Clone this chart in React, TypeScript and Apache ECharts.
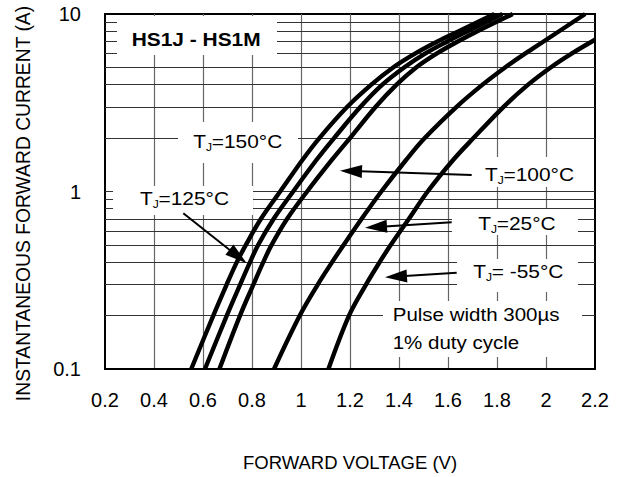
import React, { useEffect, useRef } from "react";
import * as echarts from "echarts";

// Forward voltage (V) vs instantaneous forward current (A)
const tj150: [number, number][] = [
  [0.552, 0.1], [0.642, 0.2], [0.697, 0.3], [0.738, 0.4], [0.775, 0.5], [0.836, 0.7],
  [0.915, 1], [1.005, 1.5], [1.075, 2], [1.189, 3], [1.287, 4], [1.376, 5], [1.467, 6],
  [1.557, 7], [1.644, 8], [1.789, 10],
];
const tj125: [number, number][] = [
  [0.608, 0.1], [0.697, 0.2], [0.752, 0.3], [0.792, 0.4], [0.825, 0.5], [0.888, 0.7],
  [0.968, 1], [1.062, 1.5], [1.135, 2], [1.243, 3], [1.332, 4], [1.421, 5], [1.508, 6],
  [1.597, 7], [1.68, 8], [1.822, 10],
];
const tj100: [number, number][] = [
  [0.667, 0.1], [0.751, 0.2], [0.806, 0.3], [0.846, 0.4], [0.88, 0.5], [0.943, 0.7],
  [1.025, 1], [1.125, 1.5], [1.2, 2], [1.305, 3], [1.39, 4], [1.47, 5], [1.555, 6],
  [1.64, 7], [1.72, 8], [1.864, 10],
];
const tj25: [number, number][] = [
  [0.89, 0.1], [0.995, 0.2], [1.069, 0.3], [1.127, 0.4], [1.174, 0.5], [1.247, 0.7],
  [1.328, 1], [1.428, 1.5], [1.505, 2], [1.635, 3], [1.741, 4], [1.833, 5], [1.916, 6],
  [1.99, 7], [2.16, 10],
];
const tjMinus55: [number, number][] = [
  [1.112, 0.1], [1.196, 0.2], [1.266, 0.3], [1.321, 0.4], [1.366, 0.5], [1.44, 0.7],
  [1.517, 1], [1.62, 1.5], [1.704, 2], [1.827, 3], [1.927, 4], [2.019, 5], [2.106, 6],
  [2.2, 7.16],
];
const curveNames = ["TJ=150°C", "TJ=125°C", "TJ=100°C", "TJ=25°C", "TJ=-55°C"];
const curves = [tj150, tj125, tj100, tj25, tjMinus55];

// horizontal grid lines of the log axis (minor decades)
const hGridValues = [0.2, 0.3, 0.4, 0.5, 0.6, 0.7, 0.8, 0.9, 1, 2, 3, 4, 5, 6, 7, 8, 9];

const FONT = "'Liberation Sans', Arial, Helvetica, sans-serif";

function txt(x: number, y: number, text: string, size: number, extra: any = {}) {
  return {
    type: "text",
    x,
    y,
    z: 10,
    style: {
      text,
      fontFamily: FONT,
      fontSize: size,
      fill: "#000",
      align: "left",
      verticalAlign: "middle",
      ...extra,
    },
  };
}

function tjLabel(x: number, y: number, rest: string) {
  return {
    type: "group",
    x,
    y,
    scaleX: 1.1,
    z: 10,
    children: [
      txt(0, 0, "T", 19),
      txt(11.6, 6, "J", 11),
      txt(16.8, 0, rest, 19),
    ],
  };
}

function box(x: number, y: number, w: number, h: number) {
  return {
    type: "rect",
    z: 3,
    shape: { x, y, width: w, height: h },
    style: { fill: "#fff" },
    silent: true,
  };
}

function arrow(x1: number, y1: number, x2: number, y2: number) {
  const dx = x2 - x1;
  const dy = y2 - y1;
  const len = Math.sqrt(dx * dx + dy * dy);
  const ux = dx / len;
  const uy = dy / len;
  const hl = 22;
  const hw = 6.5;
  const bx = x2 - ux * hl;
  const by = y2 - uy * hl;
  return [
    {
      type: "line",
      z: 10,
      shape: { x1, y1, x2: bx + ux * 2, y2: by + uy * 2 },
      style: { stroke: "#000", lineWidth: 2 },
    },
    {
      type: "polygon",
      z: 10,
      shape: {
        points: [
          [x2, y2],
          [bx - uy * hw, by + ux * hw],
          [bx + uy * hw, by - ux * hw],
        ],
      },
      style: { fill: "#000" },
    },
  ];
}

export default function App() {
  const ref = useRef<HTMLDivElement>(null);
  useEffect(() => {
    const chart = echarts.init(ref.current!, null, { renderer: "svg" });
    const option: any = {
      animation: false,
      backgroundColor: "#fff",
      grid: {
        left: 105,
        top: 14,
        width: 490,
        height: 358,
        show: true,
        borderColor: "#000",
        borderWidth: 2,
        backgroundColor: "transparent",
      },
      xAxis: {
        type: "value",
        min: 0.2,
        max: 2.2,
        interval: 0.2,
        name: "FORWARD VOLTAGE (V)",
        nameLocation: "middle",
        nameGap: 84,
        nameTextStyle: { fontFamily: FONT, fontSize: 18.5, color: "#000" },
        axisLine: { show: true, lineStyle: { color: "#000", width: 2 } },
        axisTick: { show: false },
        axisLabel: { fontFamily: FONT, fontSize: 20, color: "#000", margin: 21 },
        splitLine: {
          show: true,
          showMinLine: false,
          showMaxLine: false,
          lineStyle: { color: "#666", width: 1.2 },
        },
      },
      yAxis: {
        type: "log",
        logBase: 10,
        min: 0.1,
        max: 10,
        name: "INSTANTANEOUS FORWARD CURRENT (A)",
        nameLocation: "middle",
        nameRotate: 90,
        nameGap: 72,
        nameTextStyle: {
          fontFamily: FONT,
          fontSize: 19.3,
          color: "#000",
          padding: [0, 24, 0, 0],
        },
        axisLine: { show: true, lineStyle: { color: "#000", width: 2 } },
        axisTick: { show: false },
        axisLabel: { fontFamily: FONT, fontSize: 20, color: "#000", margin: 24 },
        splitLine: { show: false },
      },
      series: [
        {
          type: "line",
          name: "grid",
          data: [],
          z: 1,
          silent: true,
          markLine: {
            z: 1,
            silent: true,
            symbol: "none",
            label: { show: false },
            lineStyle: { type: "solid", color: "#333", width: 1 },
            emphasis: { disabled: true },
            data: hGridValues.map((v) => ({ yAxis: v })),
          },
        },
        ...curves.map((d, i) => ({
          type: "line",
          name: curveNames[i],
          data: d,
          z: 5,
          smooth: 0.35,
          showSymbol: false,
          symbol: "none",
          clip: true,
          lineStyle: { color: "#000", width: 4.4 },
          emphasis: { disabled: true },
          silent: true,
        })),
      ],
    };
    chart.setOption(option);

    const graphics: any[] = [
      box(117, 16, 160, 39),
      box(178, 122, 120, 41),
      box(113, 186, 140, 29),
      box(472, 157, 118, 30),
      box(452, 209, 126, 26),
      box(457, 259, 121, 33),
      box(383, 301, 199, 56),
      {
        ...txt(131.7, 39, "HS1J - HS1M", 19, { fontWeight: "bold" }),
        scaleX: 1.1,
      },
      tjLabel(193.3, 141, "=150°C"),
      tjLabel(140, 198, "=125°C"),
      tjLabel(485, 174, "=100°C"),
      tjLabel(478.3, 223, "=25°C"),
      tjLabel(473.3, 271, "= -55°C"),
      { ...txt(392.7, 314, "Pulse width 300µs", 19), scaleX: 1.08 },
      { ...txt(392.7, 342, "1% duty cycle", 19), scaleX: 1.08 },
      ...arrow(183.3, 213.3, 246.7, 263.3),
      ...arrow(471.7, 175, 340, 170.7),
      ...arrow(451.7, 222.3, 365, 227.7),
      ...arrow(456.7, 272.7, 385, 277.3),
    ];
    chart.setOption({ graphic: { elements: graphics } });

    return () => chart.dispose();
  }, []);
  return (
    <div
      ref={ref}
      style={{ position: "fixed", left: 0, top: 0, width: 620, height: 477, background: "#fff" }}
    />
  );
}
